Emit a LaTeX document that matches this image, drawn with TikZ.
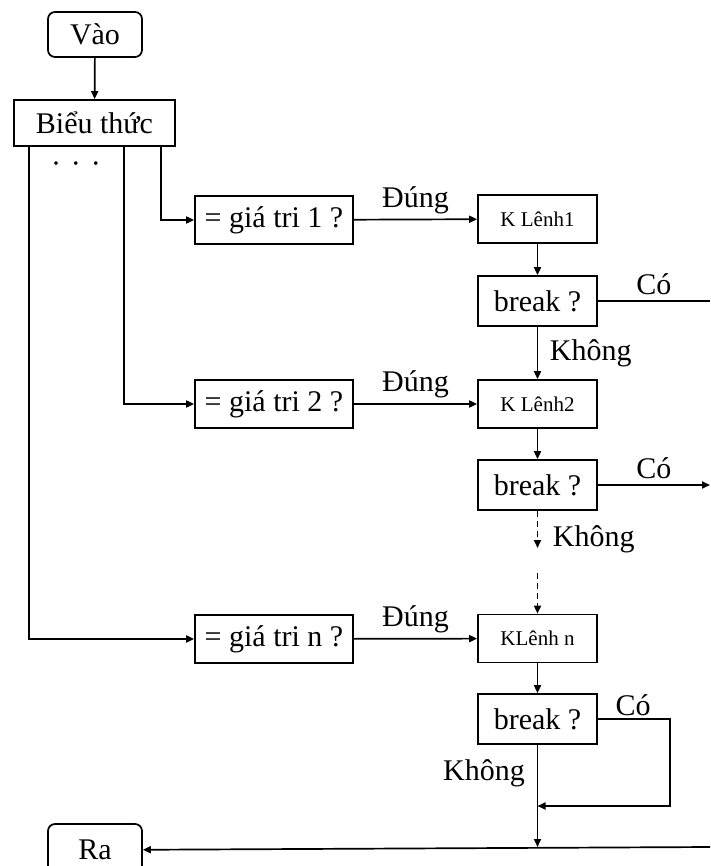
\documentclass[tikz,border=0pt]{standalone}
\usepackage{fontspec}
\setmainfont{Liberation Serif}
\usetikzlibrary{arrows.meta}
\begin{document}
\begin{tikzpicture}[x=1pt,y=-1pt,
  line width=1.7pt,
  box/.style={draw, rectangle, minimum height=48pt, font=\fontsize{30}{32}\selectfont, inner sep=0pt},
  cbox/.style={box, minimum width=158pt},
  kbox/.style={box, minimum width=119pt, font=\fontsize{21}{23}\selectfont},
  bbox/.style={box, minimum width=119pt, minimum height=50pt},
  term/.style={box, rounded corners=7pt, minimum width=94pt, minimum height=45pt},
  lbl/.style={font=\fontsize{30}{32}\selectfont, inner sep=0pt},
  arr/.style={-{Triangle[length=8pt,width=7pt]}},
  dsh/.style={arr, dash pattern=on 6pt off 4pt}
]
\clip (0,0) rectangle (710,866);
\fill[white] (0,0) rectangle (710,866);

\node[term] (vao) at (95,34.5) {Vào};
\node[box, minimum width=161pt, minimum height=46pt] (bt) at (94.5,123) {Biểu thức};
\node[lbl] (dots) at (76,168) {·\,\,·\,\,·};

\node[cbox] (c1) at (274,220) {= giá tri 1 ?};
\node[cbox] (c2) at (274,404) {= giá tri 2 ?};
\node[cbox] (cn) at (274,639) {= giá tri n ?};

\node[kbox] (k1) at (537.5,219) {K Lênh1};
\node[kbox] (k2) at (537.5,404) {K Lênh2};
\node[kbox] (kn) at (537.5,638.5) {KLênh n};

\node[bbox] (b1) at (537.5,301) {break ?};
\node[bbox] (b2) at (537.5,485) {break ?};
\node[bbox] (bn) at (537.5,719) {break ?};

\node[term, minimum height=52pt] (ra) at (95,850) {Ra};

\coordinate (e1) at (710,301);
\coordinate (e2) at (710,485);
\coordinate (e3) at (710,847);
\coordinate (d1) at (537.5,548);
\coordinate (d2) at (537.5,573);
\coordinate (j1) at (670,719);
\coordinate (j2) at (670,806);
\coordinate (j3) at (537.5,806);
\coordinate (j4) at (537.5,847);

\draw[arr] (vao) -- (bt);
\draw[arr] (bt.south -| 161,0) |- (c1.west);
\draw[arr] (bt.south -| 124,0) |- (c2.west);
\draw[arr] (bt.south -| 29,0) |- (cn.west);

\draw[arr] (c1) -- node[lbl, above=5pt] (t1) {Đúng} (k1);
\draw[arr] (c2) -- node[lbl, above=5pt] (t2) {Đúng} (k2);
\draw[arr] (cn) -- node[lbl, above=5pt] (t3) {Đúng} (kn);

\draw[arr] (k1) -- (b1);
\draw[arr] (k2) -- (b2);
\draw[arr] (kn) -- (bn);

\draw (b1) -- node[lbl, above=5pt] (y1) {Có} (e1);
\draw[arr] (b2) -- node[lbl, above=5pt] (y2) {Có} (e2);
\draw[arr] (bn.east) -- (j1) -- (j2) -- (j3);
\node[lbl] (y3) at (633,705) {Có};

\draw[arr] (b1) -- (k2);
\node[lbl, anchor=west] (n1) at (549,353) {Không};
\draw[dsh] (b2) -- (d1);
\node[lbl, anchor=west] (n2) at (552,539) {Không};
\draw[dsh] (d2) -- (kn);
\draw[arr] (bn) -- (j4);
\node[lbl] (n3) at (484,773) {Không};

\draw[arr] (e3) -- (ra);
\end{tikzpicture}
\end{document}
